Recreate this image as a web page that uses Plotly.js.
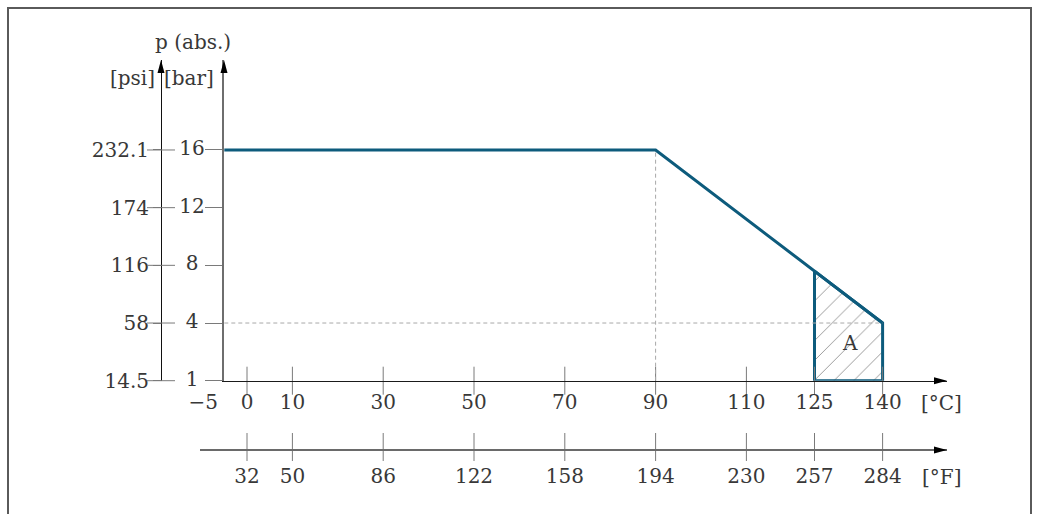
<!DOCTYPE html>
<html>
<head>
<meta charset="utf-8">
<script src="https://cdn.plot.ly/plotly-3.0.1.min.js"></script>
<style>
  html, body { margin: 0; padding: 0; background: #fff; }
  #chart { width: 1037px; height: 514px; }
</style>
</head>
<body>
<div id="chart"></div>
<script>
// Pressure rating curve (absolute pressure vs. process temperature)
const curveTemp = [-5, 90, 140];          // °C
const curveBar  = [16, 16, 4];            // bar abs.

// Zone "A": 125 … 140 °C, bounded above by the rating curve
const zoneTemp = [125, 140, 140, 125, 125];
const zoneBar  = [7.6, 4, 0, 0, 7.6];

// Pressure axis: the lowest grid step is the 1 bar (abs.) floor
const barTickVals  = [0, 4, 8, 12, 16];
const barTickText  = ['1', '4', '8', '12', '16'];
const psiTickText  = ['14.5', '58', '116', '174', '232.1'];

// Temperature axes
const celsiusTicks    = [-5, 0, 10, 30, 50, 70, 90, 110, 125, 140];
const celsiusText     = ['\u22125\u00a0', '0', '10', '30', '50', '70', '90', '110', '125', '140'];
const fahrenheitTicks = [32, 50, 86, 122, 158, 194, 230, 257, 284];
const fahrenheitText  = ['32', '50', '86', '122', '158', '194', '230', '257', '284'];

// ---- geometry (pixels) ----
const W = 1037, H = 514;
const cZero = 247, pxPerC = 4.54;       // 0 °C position and scale
const bZero = 380.7, pxPerBar = 14.42;  // floor position and scale
const axisLeft = 224, axisEnd = 947, axisTop = 60;
const fAxisStart = 200, fAxisY = 450, psiX = 161;

const cAt = px => (px - cZero) / pxPerC;
const fOf = c => c * 1.8 + 32;
const barAt = py => (bZero - py) / pxPerBar;

const BLUE = '#0d5b7c';
const INK = '#383838';
const TICK = '#7a7a7a';
const FONT = 'DejaVu Serif';
const FS = 20;

const traces = [];

// dashed guides from the knee and from the end point of the curve (drawn on the psi axis, same scale)
traces.push({
  x: [curveTemp[1], curveTemp[1], null, curveTemp[0], curveTemp[2]],
  y: [0, curveBar[1], null, curveBar[2], curveBar[2]],
  mode: 'lines', xaxis: 'x', yaxis: 'y2',
  line: { color: '#a8a8a8', width: 1, dash: '4px,3px' }
});

// hatched zone A
traces.push({
  x: zoneTemp, y: zoneBar, mode: 'lines', fill: 'toself',
  fillcolor: 'rgba(255,255,255,0)',
  fillpattern: { shape: '/', size: 14, solidity: 0.07, fgcolor: '#9a9a9a', bgcolor: 'rgba(255,255,255,0)' },
  line: { color: BLUE, width: 3 }, xaxis: 'x', yaxis: 'y'
});

// rating curve
traces.push({
  x: curveTemp, y: curveBar, mode: 'lines',
  line: { color: BLUE, width: 3 }, xaxis: 'x', yaxis: 'y'
});

// °C tick marks (crossing the axis)
traces.push({
  x: celsiusTicks.slice(1), y: celsiusTicks.slice(1).map(() => 0),
  mode: 'markers', xaxis: 'x', yaxis: 'y', cliponaxis: false,
  marker: { symbol: 'line-ns', size: 20, line: { color: TICK, width: 1 } }
});

// °C tick labels
traces.push({
  x: celsiusTicks, y: celsiusTicks.map(() => 404),
  text: celsiusText, mode: 'text', xaxis: 'x', yaxis: 'y3', cliponaxis: false,
  textposition: celsiusTicks.map((v, i) => i === 0 ? 'middle left' : 'middle center'),
  textfont: { family: FONT, size: FS, color: INK }
});

// °F tick marks
traces.push({
  x: fahrenheitTicks, y: fahrenheitTicks.map(() => 447),
  mode: 'markers', xaxis: 'x2', yaxis: 'y3', cliponaxis: false,
  marker: { symbol: 'line-ns', size: 20, line: { color: TICK, width: 1 } }
});

// °F tick labels
traces.push({
  x: fahrenheitTicks, y: fahrenheitTicks.map(() => 478),
  text: fahrenheitText, mode: 'text', xaxis: 'x2', yaxis: 'y3', cliponaxis: false,
  textposition: 'middle center',
  textfont: { family: FONT, size: FS, color: INK }
});

// bar tick labels
traces.push({
  x: barTickVals.map(() => 192), y: barTickVals,
  text: barTickText, mode: 'text', xaxis: 'x3', yaxis: 'y', cliponaxis: false,
  textposition: 'middle center',
  textfont: { family: FONT, size: FS, color: INK }
});

// psi tick marks (crossing the axis)
traces.push({
  x: barTickVals.map(() => psiX), y: barTickVals,
  mode: 'markers', xaxis: 'x3', yaxis: 'y', cliponaxis: false,
  marker: { symbol: 'line-ew', size: 20, line: { color: TICK, width: 1 } }
});

const arrowV = (x, y) => `M${x},${y} L${x - 3.5},${y + 13} L${x + 3.5},${y + 13} Z`;
const arrowH = (x, y) => `M${x},${y} L${x - 13},${y - 3.5} L${x - 13},${y + 3.5} Z`;

const shapes = [
  { type: 'rect', xref: 'x3', yref: 'y3', x0: 8, y0: 8, x1: 1031, y1: 540,
    line: { color: '#5a5a5a', width: 2 }, layer: 'below' },
  { type: 'path', xref: 'x3', yref: 'y3', path: arrowV(axisLeft, axisTop), fillcolor: '#000', line: { width: 0 } },
  { type: 'path', xref: 'x3', yref: 'y3', path: arrowV(psiX, axisTop), fillcolor: '#000', line: { width: 0 } },
  { type: 'path', xref: 'x3', yref: 'y3', path: arrowH(axisEnd, bZero), fillcolor: '#000', line: { width: 0 } },
  { type: 'path', xref: 'x3', yref: 'y3', path: arrowH(axisEnd, fAxisY), fillcolor: '#000', line: { width: 0 } }
];

const ann = (x, y, text, xref, yref) => ({
  x, y, text, xref: xref || 'x3', yref: yref || 'y3', showarrow: false,
  xanchor: 'center', yanchor: 'middle',
  font: { family: FONT, size: FS, color: INK }
});

const annotations = [
  ann(193, 42, 'p (abs.)'),
  ann(132, 78, '[psi]'),
  ann(189, 78, '[bar]'),
  ann(941, 403, '[°C]'),
  ann(941, 477, '[°F]'),
  ann(cAt(850), barAt(343), 'A', 'x', 'y')
];

const layout = {
  width: W, height: H,
  margin: { l: 0, r: 0, t: 0, b: 0 },
  paper_bgcolor: '#fff', plot_bgcolor: 'rgba(0,0,0,0)',
  showlegend: false, hovermode: false,
  xaxis: {
    domain: [axisLeft / W, axisEnd / W], range: [cAt(axisLeft), cAt(axisEnd)],
    anchor: 'y', showline: true, linecolor: '#1a1a1a', linewidth: 1,
    ticks: '', showticklabels: false, showgrid: false, zeroline: false
  },
  xaxis2: {
    domain: [fAxisStart / W, axisEnd / W],
    range: [fOf(cAt(fAxisStart)), fOf(cAt(axisEnd))],
    anchor: 'free', position: 1 - fAxisY / H,
    showline: true, linecolor: '#6a6a6a', linewidth: 2,
    ticks: '', showticklabels: false, showgrid: false, zeroline: false
  },
  xaxis3: { domain: [0, 1], range: [0, W], visible: false, anchor: 'y3' },
  yaxis: {
    domain: [1 - bZero / H, 1 - axisTop / H], range: [0, barAt(axisTop)],
    anchor: 'x', showline: true, linecolor: '#6e6e6e', linewidth: 2,
    ticks: 'outside', ticklen: 17, tickcolor: TICK, tickwidth: 1,
    tickvals: barTickVals, showticklabels: false, showgrid: false, zeroline: false
  },
  yaxis2: {
    overlaying: 'y', anchor: 'free', position: psiX / W, side: 'left',
    range: [0, barAt(axisTop)], showline: true, linecolor: '#111', linewidth: 1,
    ticks: 'outside', ticklen: 8, tickcolor: TICK, tickwidth: 1,
    tickvals: barTickVals, ticktext: psiTickText,
    tickfont: { family: FONT, size: FS, color: INK },
    showgrid: false, zeroline: false
  },
  yaxis3: { domain: [0, 1], range: [H, 0], visible: false, anchor: 'x3' },
  shapes, annotations
};

Plotly.newPlot('chart', traces, layout, { staticPlot: true, displayModeBar: false });
</script>
</body>
</html>
